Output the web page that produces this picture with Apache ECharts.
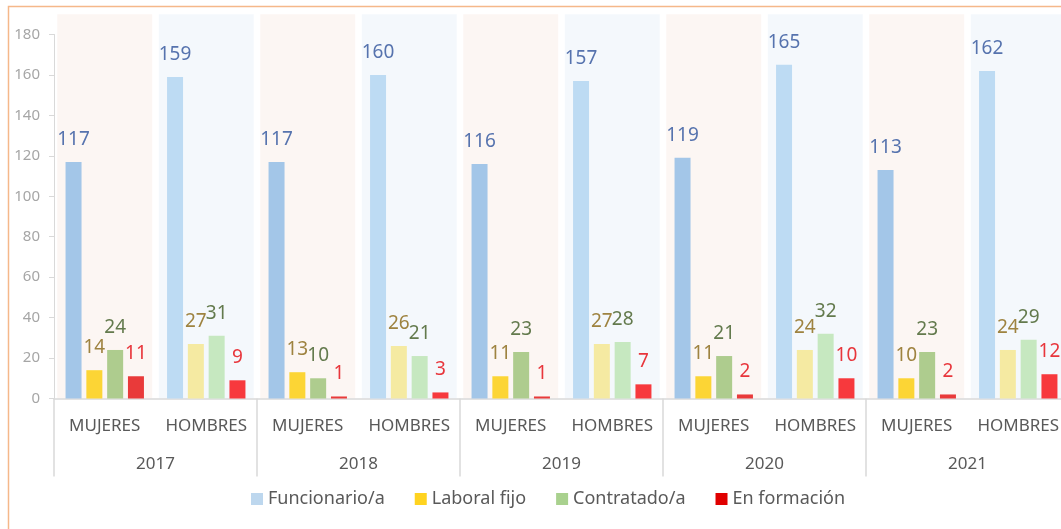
<!DOCTYPE html>
<html>
<head>
<meta charset="utf-8">
<script src="https://cdn.jsdelivr.net/npm/echarts@6/dist/echarts.min.js"></script>
<style>
  html, body { margin: 0; padding: 0; background: #fff; }
  #main { width: 1061px; height: 529px; }
</style>
</head>
<body>
<div id="main"></div>
<script>
// datos por año y sexo
var years = ['2017', '2018', '2019', '2020', '2021'];
var genders = ['MUJERES', 'HOMBRES', 'MUJERES', 'HOMBRES', 'MUJERES', 'HOMBRES', 'MUJERES', 'HOMBRES', 'MUJERES', 'HOMBRES'];
var funcionario = [117, 159, 117, 160, 116, 157, 119, 165, 113, 162];
var laboralFijo = [14, 27, 13, 26, 11, 27, 11, 24, 10, 24];
var contratado = [24, 31, 10, 21, 23, 28, 21, 32, 23, 29];
var enFormacion = [11, 9, 1, 3, 1, 7, 2, 10, 2, 12];
var yTicks = { min: 0, max: 180, interval: 20 };
var BG_TOP = 190; // fondo de cada columna

var font = 'Noto Sans';

// colores: mujeres, hombres, leyenda, etiqueta
var estilos = [
  { name: 'Funcionario/a', data: funcionario, m: '#A3C6E8', h: '#BDDBF3', legend: '#BDD7EE', label: '#5673AE' },
  { name: 'Laboral fijo', data: laboralFijo, m: '#FCD535', h: '#F5EAA2', legend: '#FFD320', label: '#9E8340' },
  { name: 'Contratado/a', data: contratado, m: '#AECC8E', h: '#C6E8C0', legend: '#A9D18E', label: '#637A4D' },
  { name: 'En formación', data: enFormacion, m: '#E93A3A', h: '#F7393D', legend: '#E00000', label: '#E8363C' }
];

var chart = echarts.init(document.getElementById('main'));

var bgData = genders.map(function (g, i) { return [i, BG_TOP]; });

var series = [{
  type: 'custom',
  name: 'fondo',
  xAxisIndex: 0,
  yAxisIndex: 0,
  silent: true,
  z: 0,
  data: bgData,
  renderItem: function (params, api) {
    var base = api.coord([api.value(0), 0]);
    var top = api.coord([api.value(0), api.value(1)]);
    var w = api.size([1, 0])[0] * 0.935;
    return {
      type: 'rect',
      shape: { x: base[0] - w / 2, y: top[1], width: w, height: base[1] - top[1] },
      style: { fill: api.value(0) % 2 === 0 ? '#FCF6F3' : '#F4F8FC' }
    };
  }
}];

estilos.forEach(function (s) {
  series.push({
    type: 'bar',
    name: s.name,
    xAxisIndex: 0,
    yAxisIndex: 0,
    barWidth: 16,
    barGap: '30%',
    z: 2,
    itemStyle: { color: s.legend },
    label: {
      show: true,
      position: 'top',
      distance: 13,
      color: s.label,
      fontSize: 19,
      fontFamily: font
    },
    data: s.data.map(function (v, i) {
      return { value: v, itemStyle: { color: i % 2 === 0 ? s.m : s.h } };
    })
  });
});

var option = {
  animation: false,
  backgroundColor: '#fff',
  graphic: [{
    type: 'rect',
    shape: { x: 8.5, y: 6.5, width: 1200, height: 700 },
    style: { fill: null, stroke: '#F5B88A', lineWidth: 1.5 },
    silent: true,
    z: 10
  }],
  grid: { left: 54, top: 34.5, bottom: 130.5, width: 1015, outerBoundsMode: 'none' },
  legend: {
    data: estilos.map(function (s) { return s.name; }),
    left: 246,
    top: 485,
    icon: 'rect',
    itemWidth: 12,
    itemHeight: 12,
    itemGap: 30,
    textStyle: { color: '#595959', fontSize: 18, fontFamily: font }
  },
  xAxis: [{
    type: 'category',
    data: genders,
    axisLine: { show: true, lineStyle: { color: '#D9D9D9', width: 1.5 } },
    axisTick: { show: false },
    axisLabel: { margin: 19, color: '#595959', fontSize: 17, fontFamily: font, interval: 0 }
  }, {
    type: 'category',
    data: years,
    position: 'bottom',
    axisLine: { show: false },
    axisTick: { show: true, length: 78, interval: 0, lineStyle: { color: '#D9D9D9', width: 1.5 } },
    axisLabel: { margin: 57, color: '#595959', fontSize: 17, fontFamily: font, interval: 0 },
    splitLine: { show: false }
  }],
  yAxis: [{
    type: 'value',
    min: yTicks.min,
    max: yTicks.max,
    interval: yTicks.interval,
    axisLine: { show: true, lineStyle: { color: '#D9D9D9' } },
    axisTick: { show: true, length: 5, lineStyle: { color: '#D9D9D9' } },
    axisLabel: { margin: 14, color: '#A6A6A6', fontSize: 15, fontFamily: font },
    splitLine: { show: false }
  }],
  series: series
};

chart.setOption(option);
</script>
</body>
</html>
